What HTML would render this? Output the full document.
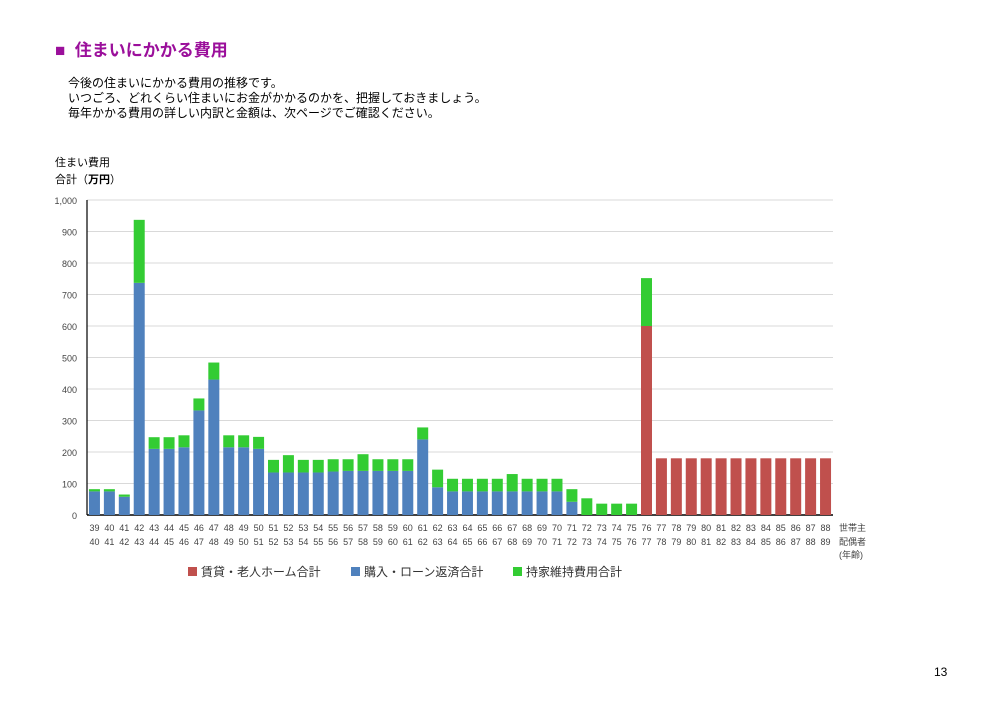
<!DOCTYPE html>
<html><head><meta charset="utf-8"><style>
body{margin:0;width:1000px;height:707px;background:#fff;font-family:"Liberation Sans","Noto Sans CJK JP",sans-serif;position:relative;overflow:hidden}
.t{position:absolute;white-space:nowrap}
</style></head><body>
<div class="t" style="left:55px;top:36px;font-size:17px;font-weight:bold;color:#9b0f9b">■&nbsp; 住まいにかかる費用</div>
<div class="t" style="left:68px;top:76px;font-size:12px;line-height:15px;color:#000">今後の住まいにかかる費用の推移です。<br>いつごろ、どれくらい住まいにお金がかかるのかを、把握しておきましょう。<br>毎年かかる費用の詳しい内訳と金額は、次ページでご確認ください。</div>
<div class="t" style="left:55px;top:155px;font-size:11px;line-height:17px">住まい費用<br>合計（<b>万円</b>）</div>
<div class="t" style="left:934px;top:665px;font-size:12px">13</div>
<svg id="c" width="1000" height="707" style="position:absolute;left:0;top:0"></svg>
<script>
const ages=[39,40,41,42,43,44,45,46,47,48,49,50,51,52,53,54,55,56,57,58,59,60,61,62,63,64,65,66,67,68,69,70,71,72,73,74,75,76,77,78,79,80,81,82,83,84,85,86,87,88];
const rent=[0,0,0,0,0,0,0,0,0,0,0,0,0,0,0,0,0,0,0,0,0,0,0,0,0,0,0,0,0,0,0,0,0,0,0,0,0,600,180,180,180,180,180,180,180,180,180,180,180,180];
const loan=[75,75,58,737,210,210,215,332,430,215,215,210,135,135,135,135,138,140,140,140,140,140,240,88,75,75,75,75,75,75,75,75,42,0,0,0,0,0,0,0,0,0,0,0,0,0,0,0,0,0];
const upkeep=[7,7,7,200,37,37,38,38,54,38,38,38,40,55,40,40,39,37,53,37,37,37,38,56,40,40,40,40,55,40,40,40,40,53,36,36,36,152,0,0,0,0,0,0,0,0,0,0,0,0];
const yTicks=[0,100,200,300,400,500,600,700,800,900,1000];
const yLabels=["0","100","200","300","400","500","600","700","800","900","1,000"];
const NS="http://www.w3.org/2000/svg",svg=document.getElementById('c');
const x0=87,x1=833,y0=515,y1=200,ymax=1000,n=ages.length,step=(x1-x0)/n,bw=11;
const Y=v=>y0-(v/ymax)*(y0-y1);
const X=i=>x0+step*(i+0.5);
function mk(t,a){const e=document.createElementNS(NS,t);for(const k in a)e.setAttribute(k,a[k]);svg.appendChild(e);return e;}
yTicks.forEach((v,i)=>{
 const g=mk('line',{x1:x0,x2:x1,y1:Y(v),y2:Y(v),stroke:v?'#d9d9d9':'#000','stroke-width':v?1:1.5});
 
 
 const t=mk('text',{x:x0-10,y:Y(v)+4,'text-anchor':'end','font-size':9,fill:'#444'});
 t.textContent=yLabels[i];
 
 
});
const ax=mk('line',{x1:x0,x2:x0,y1:y1,y2:y0,stroke:'#000','stroke-width':1.2});


ages.forEach((a,i)=>{
 let base=0;
 [[rent,'#c0504d','bar-rent'],[loan,'#4f81bd','bar-loan'],[upkeep,'#33cc33','bar-upkeep']].forEach(([arr,c,nm])=>{
  const v=arr[i];if(!v)return;
  const r=mk('rect',{x:X(i)-bw/2,y:Y(base+v),width:bw,height:Y(base)-Y(base+v),fill:c});
  
  
  base+=v;
 });
 const t=mk('text',{x:X(i),y:531,'text-anchor':'middle','font-size':9,fill:'#444'});
 t.textContent=a;
 
 
 const t2=mk('text',{x:X(i),y:545,'text-anchor':'middle','font-size':9,fill:'#444'});
 t2.textContent=a+1;
 
 
});
[['世帯主',531],['配偶者',545],['(年齢)',558]].forEach(([s,y])=>{
 const t=mk('text',{x:839,y:y,'font-size':9,fill:'#444'});
 t.textContent=s;
 
 
});
[['賃貸・老人ホーム合計','#c0504d',188],['購入・ローン返済合計','#4f81bd',351],['持家維持費用合計','#33cc33',513]].forEach(([s,c,x])=>{
 const r=mk('rect',{x:x,y:567,width:9,height:9,fill:c});
 
 
 const t=mk('text',{x:x+13,y:576,'font-size':12,fill:'#333'});
 t.textContent=s;
 
 
});
</script>
</body></html>
